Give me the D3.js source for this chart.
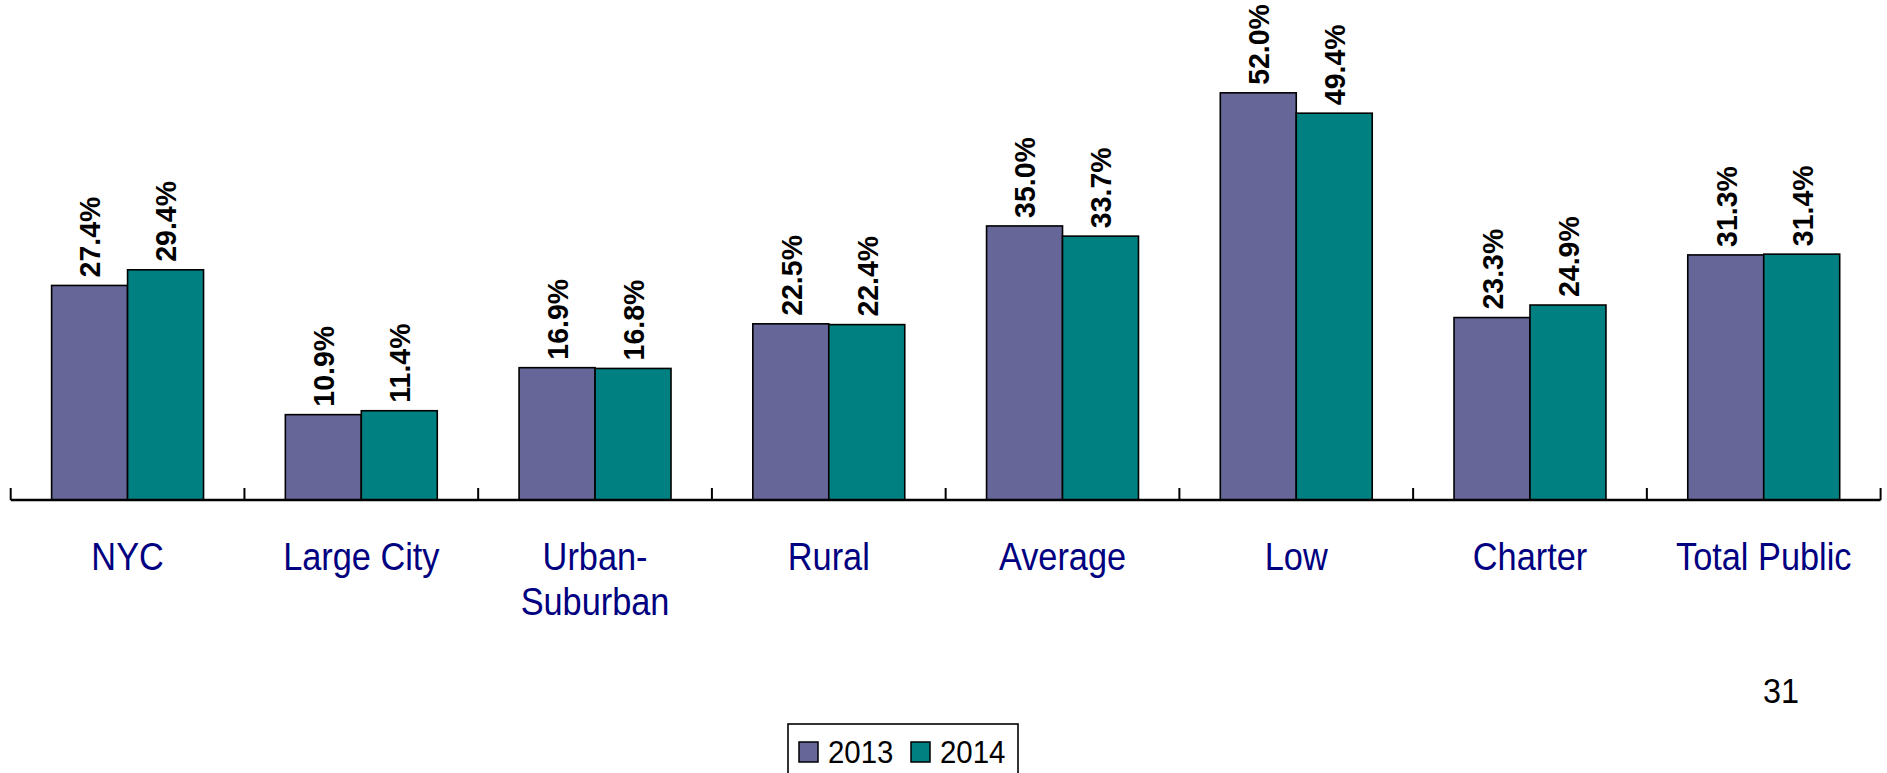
<!DOCTYPE html>
<html>
<head>
<meta charset="utf-8">
<script src="https://cdn.jsdelivr.net/npm/d3@7"></script>
<style>
  html, body { margin: 0; padding: 0; background: #fff; overflow: hidden; }
  svg { display: block; font-family: "Liberation Sans", Arial, sans-serif; }
</style>
</head>
<body>
<svg id="chart" width="1887" height="773"></svg>
<script>
const categories = ["NYC", "Large City", "Urban-\nSuburban", "Rural", "Average", "Low", "Charter", "Total Public"];
const seriesNames = ["2013", "2014"];
const values2013 = [27.4, 10.9, 16.9, 22.5, 35.0, 52.0, 23.3, 31.3];
const values2014 = [29.4, 11.4, 16.8, 22.4, 33.7, 49.4, 24.9, 31.4];
const seriesColors = ["#666699", "#008080"];
const pageNumber = "31";

const svg = d3.select("#chart");
const axisY = 500;

const x0 = d3.scaleBand().domain(categories).range([10.7, 1880.6]).paddingInner(0).paddingOuter(0);
const bw = x0.bandwidth();
const x1 = d3.scaleBand().domain(seriesNames).range([bw * 0.175, bw * 0.825]);
const y = d3.scaleLinear().domain([0, 60]).range([axisY, axisY - 60 * 7.83]);
const color = d3.scaleOrdinal().domain(seriesNames).range(seriesColors);

const data = categories.map((c, i) => ({
  cat: c,
  vals: [
    { s: "2013", v: values2013[i] },
    { s: "2014", v: values2014[i] }
  ]
}));

// bars
const groups = svg.append("g").selectAll("g").data(data).join("g")
  .attr("transform", d => `translate(${x0(d.cat)},0)`);

groups.selectAll("rect").data(d => d.vals).join("rect")
  .attr("x", d => x1(d.s))
  .attr("y", d => y(d.v))
  .attr("width", x1.bandwidth())
  .attr("height", d => y(0) - y(d.v))
  .attr("fill", d => color(d.s))
  .attr("stroke", "#000")
  .attr("stroke-width", 1.6);

// value labels
groups.selectAll("text.val").data(d => d.vals).join("text")
  .attr("class", "val")
  .attr("transform", d => `translate(${x1(d.s) + x1.bandwidth() / 2},${y(d.v) - 8}) rotate(-90) scale(0.95,1)`)
  .attr("dy", "0.36em")
  .attr("text-anchor", "start")
  .attr("font-size", 30)
  .attr("font-weight", "bold")
  .attr("fill", "#000")
  .text(d => d.v.toFixed(1) + "%");

// x axis
const axis = d3.axisBottom(x0).tickSize(0).tickFormat("");
const axG = svg.append("g").attr("transform", `translate(0,${axisY})`).call(axis);
axG.select(".domain").attr("stroke", "#000").attr("stroke-width", 2.5).attr("d", `M10.7,0H1880.6`);
const boundaries = d3.range(categories.length + 1).map(i => 10.7 + i * bw);
axG.selectAll("line.tk").data(boundaries).join("line")
  .attr("class", "tk")
  .attr("x1", d => d).attr("x2", d => d)
  .attr("y1", 0).attr("y2", -12)
  .attr("stroke", "#000").attr("stroke-width", 2);

// category labels
const catG = svg.append("g");
categories.forEach(c => {
  const lines = c.split("\n");
  const t = catG.append("text")
    .attr("transform", `translate(${x0(c) + bw / 2},570) scale(0.88,1)`)
    .attr("text-anchor", "middle")
    .attr("font-size", 39)
    .attr("fill", "#000080");
  lines.forEach((l, i) => {
    t.append("tspan").attr("x", 0).attr("y", i * 45).text(l);
  });
});

// page number
svg.append("text")
  .attr("transform", "translate(1781,703) scale(0.9,1)")
  .attr("text-anchor", "middle")
  .attr("font-size", 36)
  .attr("fill", "#000")
  .text(pageNumber);

// legend
const lg = svg.append("g");
lg.append("rect")
  .attr("x", 788).attr("y", 724).attr("width", 230).attr("height", 70)
  .attr("fill", "#fff").attr("stroke", "#000").attr("stroke-width", 1.6);
const legendX = [799, 911];
seriesNames.forEach((s, i) => {
  lg.append("rect")
    .attr("x", legendX[i]).attr("y", 742).attr("width", 19).attr("height", 20)
    .attr("fill", color(s)).attr("stroke", "#000").attr("stroke-width", 1.5);
  lg.append("text")
    .attr("transform", `translate(${legendX[i] + 29},763) scale(0.92,1)`)
    .attr("font-size", 32)
    .attr("fill", "#000")
    .text(s);
});
</script>
</body>
</html>
